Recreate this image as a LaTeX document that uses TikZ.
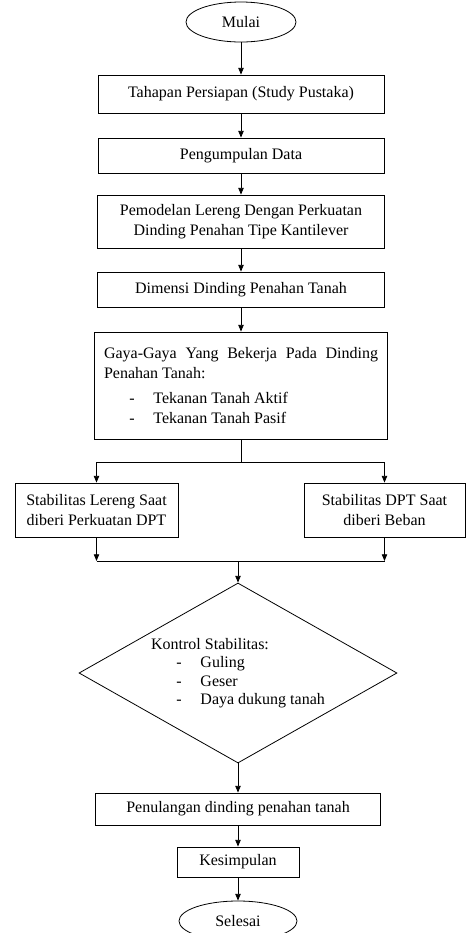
\documentclass[tikz,border=0pt]{standalone}
\usepackage{fontspec}
\setmainfont{Liberation Serif}
\usetikzlibrary{shapes.geometric,arrows.meta}
\newcommand{\butir}[1]{\hspace*{19pt}\makebox[18pt][l]{-}#1}

\begin{document}
\begin{tikzpicture}[x=0.75pt,y=-0.75pt,
  every node/.style={font=\fontsize{12}{15}\selectfont, inner sep=0pt},
  kotak/.style={draw, rectangle, line width=0.6pt, align=center},
  oval/.style={draw, ellipse, line width=0.6pt, minimum height=30pt},
  belah/.style={draw, diamond, aspect=1.77, line width=0.6pt, align=left,
    font=\fontsize{12}{13.75}\selectfont},
  panah/.style={-{Triangle[length=5pt,width=4pt]}, line width=0.6pt},
  garis/.style={line width=0.6pt}]
\path[clip, use as bounding box] (0,0) rectangle (466,933);

\node[oval, minimum width=82.5pt] (mulai) at (241,22) {Mulai};
\node[kotak, minimum width=214.5pt, minimum height=28.5pt] (persiapan) at (241,94) {Tahapan Persiapan (Study Pustaka)};
\node[kotak, minimum width=214.5pt, minimum height=26.25pt] (data) at (241,155.5) {Pengumpulan Data};
\node[kotak, minimum width=215.25pt, minimum height=39.75pt] (model) at (241,221.5) {Pemodelan Lereng Dengan Perkuatan\\Dinding Penahan Tipe Kantilever};
\node[kotak, minimum width=215.25pt, minimum height=26.25pt] (dimensi) at (241,289.5) {Dimensi Dinding Penahan Tanah};
\node[kotak, minimum width=219.75pt, minimum height=80.25pt, text width=205.5pt, align=justify] (gaya) at (241,385.5)
  {Gaya-Gaya Yang Bekerja Pada Dinding\linebreak Penahan Tanah:\\[4pt]
   \butir{Tekanan Tanah Aktif}\\
   \butir{Tekanan Tanah Pasif}};

\node[kotak, minimum width=122.25pt, minimum height=40.5pt] (lereng) at (96.5,510) {Stabilitas Lereng Saat\\diberi Perkuatan DPT};
\node[kotak, minimum width=120.75pt, minimum height=40.5pt] (dpt) at (384.5,510) {Stabilitas DPT Saat\\diberi Beban};

\coordinate (cabang) at (241,462);
\coordinate (gabung) at (238,561);

\node[belah, minimum width=238.5pt, minimum height=135pt] (kontrol) at (238,673)
  {Kontrol Stabilitas:\\
   \butir{Guling}\\
   \butir{Geser}\\
   \butir{Daya dukung tanah}};

\node[kotak, minimum width=213.75pt, minimum height=24pt] (tulangan) at (238,809) {Penulangan dinding penahan tanah};
\node[kotak, minimum width=91.5pt, minimum height=22.5pt] (simpul) at (238,862) {Kesimpulan};
\node[oval, minimum width=88.5pt] (selesai) at (238,921) {Selesai};

% alur utama
\draw[panah] (mulai) -- (persiapan);
\draw[panah] (persiapan) -- (data);
\draw[panah] (data) -- (model);
\draw[panah] (model) -- (dimensi);
\draw[panah] (dimensi) -- (gaya);

% percabangan
\draw[garis] (gaya) -- (cabang);
\draw[panah] (cabang) -| (lereng);
\draw[panah] (cabang) -| (dpt);
\draw[panah] (lereng) -- (lereng |- gabung);
\draw[panah] (dpt) -- (dpt |- gabung);
\draw[garis] (lereng |- gabung) -- (dpt |- gabung);
\draw[panah] (gabung) -- (kontrol);

\draw[panah] (kontrol) -- (tulangan);
\draw[panah] (tulangan) -- (simpul);
\draw[panah] (simpul) -- (selesai);
\end{tikzpicture}
\end{document}
